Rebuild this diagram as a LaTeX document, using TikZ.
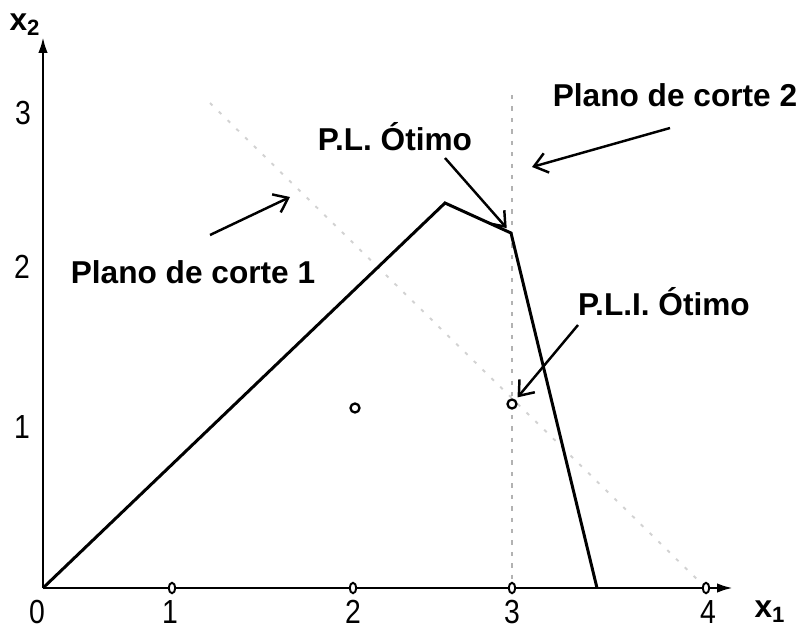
\documentclass[tikz,border=0pt]{standalone}
\usepackage{fontspec}
\setmainfont{Liberation Sans}
\newfontfamily\narrowfont[FakeStretch=0.85]{Liberation Sans}
\usetikzlibrary{arrows.meta,shapes.geometric}

\begin{document}
\begin{tikzpicture}[x=0.02cm, y=0.02cm,
  ax/.style={line width=1.5pt, -{Latex[length=3.2mm,width=1.9mm]}},
  reg/.style={line width=1.7pt, line join=miter},
  cutv/.style={gray!60, line width=0.8pt, dash pattern=on 2.5pt off 4pt},
  cutd/.style={gray!35, line width=1.1pt, dash pattern=on 2pt off 5pt},
  note/.style={line width=1.4pt, -{Straight Barb[length=2.6mm,width=4mm]}},
  lab/.style={font=\fontsize{18}{20}\selectfont\bfseries, inner sep=0pt},
  num/.style={font=\narrowfont\fontsize{19}{21}\selectfont, inner sep=0pt},
  pt/.style={circle, draw, fill=white, line width=1.3pt, inner sep=0pt,
             minimum size=1.8mm},
  apt/.style={ellipse, draw, fill=white, line width=1.1pt, inner sep=0pt,
              minimum width=1.3mm, minimum height=2.1mm}]

\useasboundingbox (-43,-42) rectangle (769,588);

% axes
\coordinate (O) at (0,0);
\coordinate (xend) at (690,0);
\coordinate (yend) at (0,551);
\draw[ax] (O) -- (xend);
\draw[ax] (O) -- (yend);

% cutting planes
\coordinate (v1) at (469,493);
\coordinate (d1) at (167,485);
\coordinate (p3c) at (469,0);
\coordinate (p4c) at (663,0);
\draw[cutv] (v1) -- (p3c);
\draw[cutd] (d1) -- (p4c);

% feasible region (LP relaxation)
\coordinate (A) at (402,385);
\coordinate (B) at (468,355);
\coordinate (D) at (554,0);
\draw[reg] (O) -- (A) -- (B) -- (D);

% integer points
\node[apt] (p1) at (129,0) {};
\node[apt] (p2) at (310,0) {};
\node[apt] (p3) at (469,0) {};
\node[apt] (p4) at (663,0) {};
\node[pt] (q1) at (312,180) {};
\node[pt] (q2) at (469,184) {};

% tick labels
\node[num] (n0) at (-6,-24) {0};
\node[num] (n1) at (127,-24) {1};
\node[num] (n2) at (310,-24) {2};
\node[num] (n3) at (469,-24) {3};
\node[num] (n4) at (665,-24) {4};
\node[num] (m1) at (-21,161) {1};
\node[num] (m2) at (-21,321) {2};
\node[num] (m3) at (-20,475) {3};
\node[lab] (xa) at (727,-24) {x\textsubscript{1}};
\node[lab] (ya) at (-18,563) {x\textsubscript{2}};

% labels and pointers
\node[lab] (cut1) at (150,316) {Plano de corte 1};
\node[lab] (cut2) at (632,493) {Plano de corte 2};
\node[lab] (plopt) at (352,451) {P.L. Ótimo};
\node[lab] (pliopt) at (621,286) {P.L.I. Ótimo};

\coordinate (t1) at (167,353);
\coordinate (h1) at (247,391);
\coordinate (t2) at (627,460);
\coordinate (h2) at (489,421);
\coordinate (t3) at (402,430);
\coordinate (t4) at (535,263);
\draw[note] (t1) -- (h1);
\draw[note] (t2) -- (h2);
\draw[note, shorten >=1.3mm] (t3) -- (B);
\draw[note, shorten >=0.6mm] (t4) -- (q2);
\end{tikzpicture}
\end{document}
